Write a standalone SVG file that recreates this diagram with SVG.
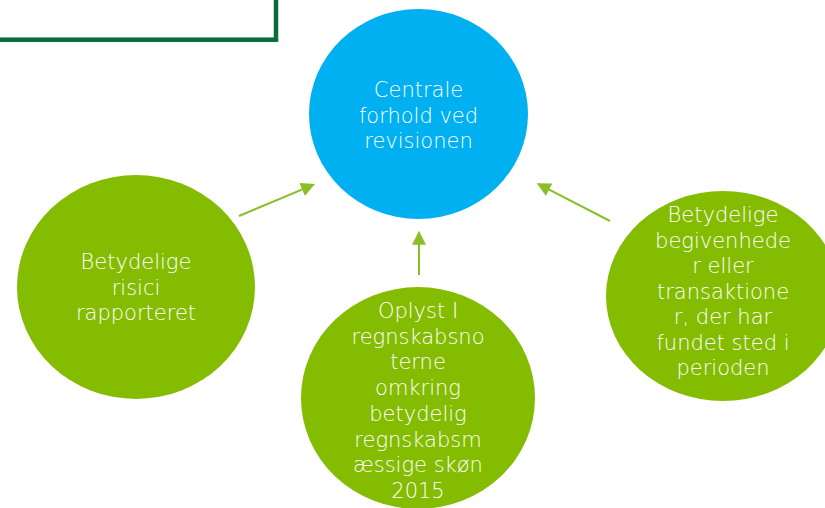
<svg xmlns="http://www.w3.org/2000/svg" width="825" height="508" viewBox="0 0 825 508">
  <style>
    .green { fill: #83BC00; }
    .blue { fill: #00B0F0; }
    .lbl { font-family: "DejaVu Sans", Verdana, sans-serif; font-size: 21px; fill: #FFFFFF; text-anchor: middle; font-weight: 300; }
    .conn { stroke: #8ABF2A; stroke-width: 2; fill: none; marker-end: url(#arr); }
  </style>
  <defs>
    <marker id="arr" markerUnits="userSpaceOnUse" markerWidth="14" markerHeight="14" refX="12" refY="7" orient="auto">
      <path d="M0,0 L14,7 L0,14 z" fill="#8ABF2A"/>
    </marker>
  </defs>
  <rect x="-20" y="-20" width="296" height="59.7" fill="none" stroke="#076B3A" stroke-width="4.5"/>
  <g id="connectors">
    <path class="conn" d="M239,216 L313.2,184.8"/>
    <path class="conn" d="M419,275 L419,232.7"/>
    <path class="conn" d="M610,221 L538.5,184.2"/>
  </g>
  <g id="center">
    <ellipse class="blue" cx="418.5" cy="114" rx="109.5" ry="105"/>
    <text class="lbl" x="418.5" y="97">Centrale</text>
    <text class="lbl" x="418.5" y="122.5">forhold ved</text>
    <text class="lbl" x="418.5" y="148">revisionen</text>
  </g>
  <g id="left">
    <ellipse class="green" cx="136" cy="287" rx="119" ry="112"/>
    <text class="lbl" x="136" y="269">Betydelige</text>
    <text class="lbl" x="136" y="294.5">risici</text>
    <text class="lbl" x="136" y="320">rapporteret</text>
  </g>
  <g id="bottom">
    <ellipse class="green" cx="418" cy="398" rx="117" ry="111"/>
    <text class="lbl" x="418" y="318">Oplyst I</text>
    <text class="lbl" x="418" y="343.7">regnskabsno</text>
    <text class="lbl" x="418" y="369.4">terne</text>
    <text class="lbl" x="418" y="395.1">omkring</text>
    <text class="lbl" x="418" y="420.8">betydelig</text>
    <text class="lbl" x="418" y="446.5">regnskabsm</text>
    <text class="lbl" x="418" y="472.2">æssige skøn</text>
    <text class="lbl" x="418" y="498">2015</text>
  </g>
  <g id="right">
    <ellipse class="green" cx="723" cy="296" rx="117" ry="105"/>
    <text class="lbl" x="723" y="222">Betydelige</text>
    <text class="lbl" x="723" y="247.5">begivenhede</text>
    <text class="lbl" x="723" y="273">r eller</text>
    <text class="lbl" x="723" y="298.5">transaktione</text>
    <text class="lbl" x="723" y="324">r, der har</text>
    <text class="lbl" x="723" y="349.5">fundet sted i</text>
    <text class="lbl" x="723" y="375">perioden</text>
  </g>
</svg>
